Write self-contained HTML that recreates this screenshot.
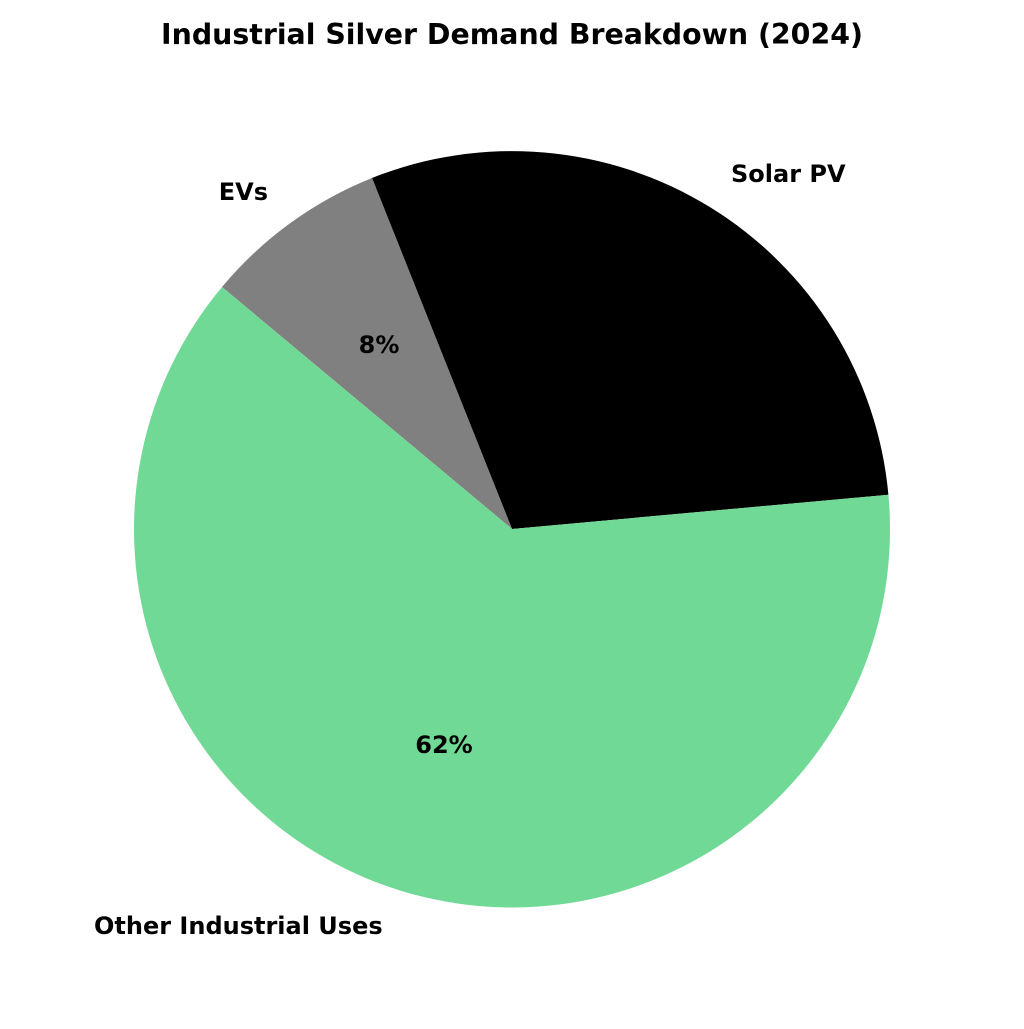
<!DOCTYPE html>
<html><head><style>
html,body{margin:0;padding:0;background:#fff;}
svg text{font-family:"DejaVu Sans","Liberation Sans",sans-serif;font-weight:bold;fill:#000;}
</style></head><body>
<svg width="1024" height="1024" viewBox="0 0 1024 1024" xmlns="http://www.w3.org/2000/svg">
<rect width="1024" height="1024" fill="#fff"/>
<path d="M512,529 L888.4,494.7 A378,378 0 0,0 372,178 Z" fill="#000000"/>
<path d="M512,529 L372,178 A378,378 0 0,0 222,287 Z" fill="#808080"/>
<path d="M512,529 L222,287 A378,378 0 1,0 888.4,494.7 Z" fill="#71d996"/>
<text x="512" y="44" font-size="28.4" text-anchor="middle">Industrial Silver Demand Breakdown (2024)</text>
<text x="731" y="182" font-size="24">Solar PV</text>
<text x="268" y="200" font-size="24" text-anchor="end">EVs</text>
<text x="94" y="934" font-size="24">Other Industrial Uses</text>
<text x="379" y="353" font-size="24" text-anchor="middle">8%</text>
<text x="444" y="753" font-size="24" text-anchor="middle">62%</text>
</svg>
</body></html>
